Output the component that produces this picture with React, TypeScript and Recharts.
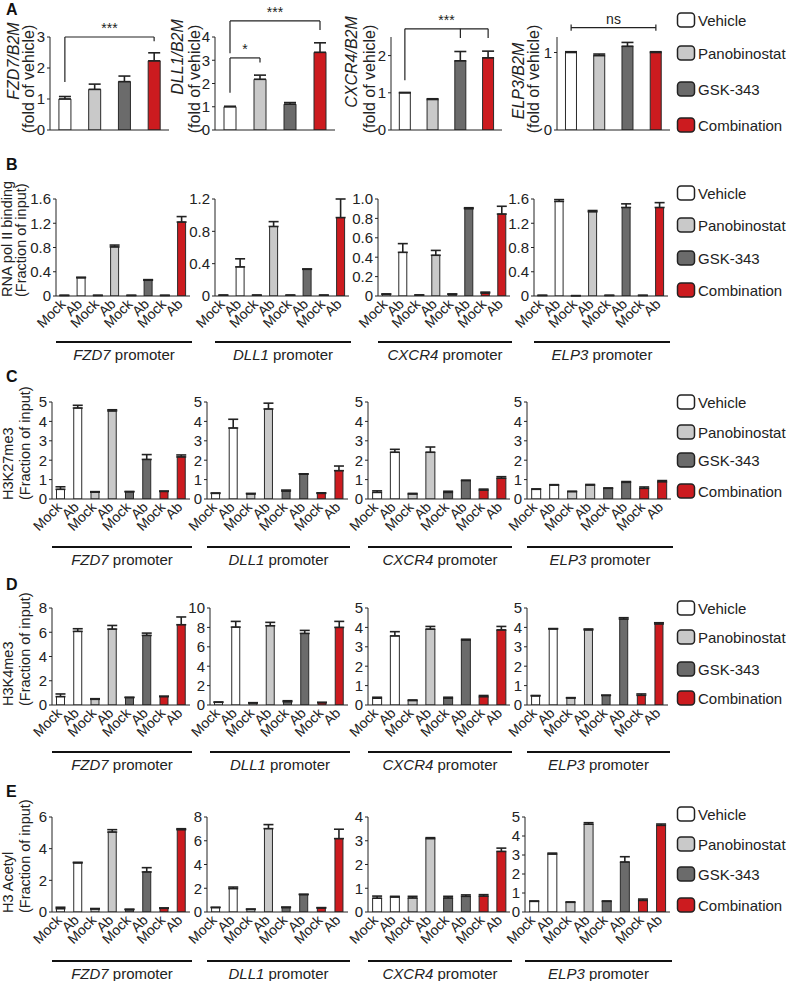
import React from 'react';
import { BarChart, Bar, XAxis, YAxis, Cell, ErrorBar, ReferenceLine } from 'recharts';

// treatment groups and ChIP tick labels
const groups = ['Vehicle', 'Panobinostat', 'GSK-343', 'Combination'];
const groupColors = ['#ffffff', '#c9c9c9', '#6b6b6b', '#cc1b1f'];
const chipTicks = ['Mock', 'Ab', 'Mock', 'Ab', 'Mock', 'Ab', 'Mock', 'Ab'];
const promoters = ['FZD7', 'DLL1', 'CXCR4', 'ELP3'];

// A: mRNA, fold of vehicle
const rnaFzd7 = [1.0, 1.31, 1.56, 2.23];
const rnaFzd7Err = [0.08, 0.17, 0.18, 0.26];
const rnaDll1 = [1.0, 2.18, 1.11, 3.34];
const rnaDll1Err = [0.02, 0.18, 0.07, 0.41];
const rnaCxcr4 = [1.0, 0.82, 1.86, 1.94];
const rnaCxcr4Err = [0.01, 0.02, 0.25, 0.18];
const rnaElp3 = [1.0, 0.96, 1.08, 1.0];
const rnaElp3Err = [0.01, 0.02, 0.05, 0.01];

// B: RNA pol II binding
const polFzd7 = [0.01, 0.3, 0.01, 0.81, 0.01, 0.26, 0.01, 1.22];
const polFzd7Err = [0, 0.01, 0, 0.03, 0, 0.01, 0, 0.09];
const polDll1 = [0.01, 0.36, 0.01, 0.86, 0.01, 0.33, 0.01, 0.97];
const polDll1Err = [0, 0.1, 0, 0.06, 0, 0.005, 0, 0.23];
const polCxcr4 = [0.02, 0.45, 0.01, 0.42, 0.02, 0.9, 0.03, 0.845];
const polCxcr4Err = [0, 0.09, 0, 0.05, 0, 0.01, 0.01, 0.08];
const polElp3 = [0.01, 1.56, 0.005, 1.39, 0.01, 1.46, 0.01, 1.46];
const polElp3Err = [0, 0.03, 0, 0.02, 0, 0.06, 0, 0.08];

// C: H3K27me3
const k27Fzd7 = [0.5, 4.69, 0.35, 4.54, 0.37, 2.04, 0.39, 2.17];
const k27Fzd7Err = [0.13, 0.14, 0.03, 0.06, 0.02, 0.25, 0.02, 0.1];
const k27Dll1 = [0.29, 3.66, 0.26, 4.64, 0.41, 1.28, 0.29, 1.46];
const k27Dll1Err = [0.02, 0.45, 0.03, 0.3, 0.05, 0.02, 0.03, 0.24];
const k27Cxcr4 = [0.34, 2.41, 0.26, 2.41, 0.34, 0.95, 0.46, 1.07];
const k27Cxcr4Err = [0.08, 0.15, 0.03, 0.27, 0.06, 0.02, 0.05, 0.08];
const k27Elp3 = [0.5, 0.72, 0.38, 0.72, 0.55, 0.86, 0.55, 0.89];
const k27Elp3Err = [0.02, 0.02, 0.02, 0.03, 0.02, 0.04, 0.07, 0.06];

// D: H3K4me3
const k4Fzd7 = [0.69, 6.07, 0.47, 6.26, 0.61, 5.74, 0.69, 6.62];
const k4Fzd7Err = [0.22, 0.22, 0.05, 0.3, 0.03, 0.19, 0.04, 0.64];
const k4Dll1 = [0.28, 8.03, 0.21, 8.17, 0.34, 7.38, 0.24, 8.0];
const k4Dll1Err = [0.03, 0.59, 0.03, 0.35, 0.1, 0.31, 0.04, 0.62];
const k4Cxcr4 = [0.35, 3.56, 0.23, 3.91, 0.35, 3.35, 0.43, 3.87];
const k4Cxcr4Err = [0.05, 0.22, 0.03, 0.14, 0.05, 0.04, 0.06, 0.18];
const k4Elp3 = [0.47, 3.92, 0.36, 3.87, 0.49, 4.43, 0.5, 4.18];
const k4Elp3Err = [0.02, 0.02, 0.02, 0.05, 0.02, 0.07, 0.07, 0.06];

// E: H3 acetyl
const acFzd7 = [0.21, 3.1, 0.19, 5.05, 0.15, 2.53, 0.23, 5.2];
const acFzd7Err = [0.09, 0.04, 0.03, 0.15, 0.03, 0.27, 0.03, 0.06];
const acDll1 = [0.37, 1.97, 0.22, 7.02, 0.37, 1.46, 0.34, 6.18];
const acDll1Err = [0.03, 0.13, 0.03, 0.34, 0.05, 0.04, 0.03, 0.79];
const acCxcr4 = [0.58, 0.63, 0.59, 3.09, 0.59, 0.66, 0.67, 2.55];
const acCxcr4Err = [0.09, 0.03, 0.07, 0.04, 0.07, 0.06, 0.06, 0.14];
const acElp3 = [0.56, 3.05, 0.51, 4.62, 0.56, 2.63, 0.61, 4.56];
const acElp3Err = [0.02, 0.05, 0.02, 0.08, 0.02, 0.28, 0.07, 0.07];

// y tick labels
const ticks0to1 = [0, 1];
const ticks0to2 = [0, 1, 2];
const ticks0to3 = [0, 1, 2, 3];
const ticks0to4 = [0, 1, 2, 3, 4];
const ticks0to5 = [0, 1, 2, 3, 4, 5];
const ticksPol16 = [0, 0.4, 0.8, 1.2, 1.6];
const ticksPol12 = [0, 0.4, 0.8, 1.2];
const ticksPol10 = [0, 0.2, 0.4, 0.6, 0.8, 1.0];
const ticksEven6 = [0, 2, 4, 6];
const ticksEven8 = [0, 2, 4, 6, 8];
const ticksEven10 = [0, 2, 4, 6, 8, 10];

// significance brackets: [fromGroup, fromY, toGroup, toY, text]
const bracketsFzd7: [string, number, string, number, string?][] = [
  ['Vehicle', 3.0, 'Combination', 3.0, '***'],
  ['Vehicle', 3.0, 'Vehicle', 1.55],
  ['Combination', 3.0, 'Combination', 2.86],
];
const bracketsDll1: [string, number, string, number, string?][] = [
  ['Vehicle', 4.69, 'Combination', 4.69, '***'],
  ['Vehicle', 4.69, 'Vehicle', 3.3],
  ['Combination', 4.69, 'Combination', 4.3],
  ['Vehicle', 3.1, 'Panobinostat', 3.1, '*'],
  ['Vehicle', 3.1, 'Vehicle', 1.6],
  ['Panobinostat', 3.1, 'Panobinostat', 2.9],
];
const bracketsCxcr4: [string, number, string, number, string?][] = [
  ['Vehicle', 2.72, 'Combination', 2.72, '***'],
  ['Vehicle', 2.72, 'Vehicle', 1.34],
  ['GSK-343', 2.72, 'GSK-343', 2.47],
  ['Combination', 2.72, 'Combination', 2.47],
];
const bracketsElp3: [string, number, string, number, string?][] = [
  ['Vehicle', 1.32, 'Combination', 1.32, 'ns'],
  ['Vehicle', 1.28, 'Vehicle', 1.36],
  ['Combination', 1.28, 'Combination', 1.36],
];

const INK = '#222';
const FONT = '"Liberation Sans", Arial, Helvetica, sans-serif';
const YW = 42;

const fmtDec = (v: number) => (v === 0 ? '0' : v.toFixed(1));

const MockTick = (props: any) => {
  const { x, y, payload } = props;
  const idx = Number(String(payload.value).slice(1));
  const ax = x + 2;
  const ay = y + 1;
  return (
    <text x={ax} y={ay} textAnchor="end" fontSize={14} fill={INK} fontFamily={FONT}
      transform={`rotate(-45, ${ax}, ${ay})`}>
      {chipTicks[idx]}
    </text>
  );
};

function FoldChart({ values, errs, ticks, max, axisX, endX, brackets }: any) {
  const data = groups.map((g, i) => ({ id: g, v: values[i], e: [0, errs[i]], fill: groupColors[i] }));
  return (
    <div style={{ position: 'absolute', left: axisX - YW, top: 0 }}>
      <BarChart width={endX - axisX + YW + 4} height={148} data={data}
        margin={{ top: 37, right: 4, left: 0, bottom: 0 }} barCategoryGap="30%">
        <XAxis dataKey="id" tick={false} tickLine={false} height={18} axisLine={{ stroke: INK }} />
        <YAxis width={YW} domain={[0, max]} ticks={ticks} allowDataOverflow interval={0}
          tickSize={3} tickMargin={2} axisLine={{ stroke: INK }} tickLine={{ stroke: INK }}
          tick={{ fontSize: 15, fill: INK, fontFamily: FONT }} />
        <Bar dataKey="v" isAnimationActive={false} stroke="#2a2a2a" strokeWidth={1}>
          {data.map((d) => <Cell key={d.id} fill={d.fill} />)}
          <ErrorBar dataKey="e" width={6} stroke={INK} strokeWidth={1.6} />
        </Bar>
        {brackets.map((b: any, k: number) => (
          <ReferenceLine key={k} segment={[{ x: b[0], y: b[1] }, { x: b[2], y: b[3] }]}
            stroke={INK} strokeWidth={1.2} ifOverflow="visible"
            label={b[4] ? { value: b[4], position: 'top', fontSize: 14, fill: INK, fontFamily: FONT, offset: 4 } : undefined} />
        ))}
      </BarChart>
    </div>
  );
}

function ChipChart({ values, errs, ticks, fmt, axisX, endX, top, bottom }: any) {
  const data = values.map((v: number, i: number) => ({
    id: 'c' + i, v, e: [0, errs[i]], fill: groupColors[Math.floor(i / 2)],
  }));
  const MT = 8;
  const MB = 50;
  return (
    <div style={{ position: 'absolute', left: axisX - YW, top: top - MT }}>
      <BarChart width={endX - axisX + YW + 4} height={bottom - top + MT + MB} data={data}
        margin={{ top: MT, right: 4, left: 0, bottom: 0 }} barCategoryGap="26%">
        <XAxis dataKey="id" interval={0} tickLine={false} height={MB} axisLine={{ stroke: INK }}
          tick={(p: any) => <MockTick {...p} />} />
        <YAxis width={YW} domain={[0, ticks[ticks.length - 1]]} ticks={ticks} allowDataOverflow interval={0}
          tickFormatter={fmt} tickSize={3} tickMargin={2} axisLine={{ stroke: INK }} tickLine={{ stroke: INK }}
          tick={{ fontSize: 15, fill: INK, fontFamily: FONT }} />
        <Bar dataKey="v" isAnimationActive={false} stroke="#2a2a2a" strokeWidth={1}>
          {data.map((d: any) => <Cell key={d.id} fill={d.fill} />)}
          <ErrorBar dataKey="e" width={5} stroke={INK} strokeWidth={1.6} />
        </Bar>
      </BarChart>
    </div>
  );
}

const rows = [
  {
    top: 199, bottom: 296, axes: [56, 215, 378, 534], ends: [190, 349, 510, 668], fmt: fmtDec,
    series: [polFzd7, polDll1, polCxcr4, polElp3], errs: [polFzd7Err, polDll1Err, polCxcr4Err, polElp3Err],
    ticks: [ticksPol16, ticksPol12, ticksPol10, ticksPol16],
    line: 342, legend: [193, 225, 258, 290], label: ['RNA pol II binding', '(Fraction of input)'], labelX: [7, 20.5],
  },
  {
    top: 402, bottom: 499, axes: [52, 207, 368, 527], ends: [190, 348, 510, 671],
    series: [k27Fzd7, k27Dll1, k27Cxcr4, k27Elp3], errs: [k27Fzd7Err, k27Dll1Err, k27Cxcr4Err, k27Elp3Err],
    ticks: [ticks0to5, ticks0to5, ticks0to5, ticks0to5],
    line: 547, legend: [402, 432, 460, 491], label: ['H3K27me3', '(Fraction of input)'], labelX: [8, 25],
  },
  {
    top: 608, bottom: 705, axes: [52, 210, 368, 527], ends: [190, 348, 510, 668],
    series: [k4Fzd7, k4Dll1, k4Cxcr4, k4Elp3], errs: [k4Fzd7Err, k4Dll1Err, k4Cxcr4Err, k4Elp3Err],
    ticks: [ticksEven8, ticksEven10, ticks0to5, ticks0to5],
    line: 752, legend: [608, 637, 669, 698], label: ['H3K4me3', '(Fraction of input)'], labelX: [8, 25],
  },
  {
    top: 817, bottom: 912, axes: [52, 207, 368, 525], ends: [190, 348, 510, 670],
    series: [acFzd7, acDll1, acCxcr4, acElp3], errs: [acFzd7Err, acDll1Err, acCxcr4Err, acElp3Err],
    ticks: [ticksEven6, ticksEven8, ticks0to4, ticks0to5],
    line: 961, legend: [814, 844, 874, 905], label: ['H3 Acetyl', '(Fraction of input)'], labelX: [8, 25],
  },
];

const legendA = [20, 53, 89, 125];
const letters = [['A', 15], ['B', 170], ['C', 382], ['D', 590], ['E', 797]];

function Legend({ ys }: { ys: number[] }) {
  return (
    <g>
      {groups.map((g, i) => (
        <g key={g}>
          <rect x={677.5} y={ys[i] - 7} width={17} height={14} rx={3.5} fill={groupColors[i]} stroke={INK} strokeWidth={1.5} />
          <text x={698} y={ys[i]} dominantBaseline="central" fontSize={15} fill={INK}>{g}</text>
        </g>
      ))}
    </g>
  );
}

const foldLabels = [
  { gene: 'FZD7/B2M', gx: 13, gy: 61, fx: 28 },
  { gene: 'DLL1/B2M', gx: 177, gy: 57, fx: 194 },
  { gene: 'CXCR4/B2M', gx: 351, gy: 62, fx: 369 },
  { gene: 'ELP3/B2M', gx: 518, gy: 81, fx: 533 },
];

export default function App() {
  return (
    <div style={{ position: 'absolute', left: 0, top: 0, width: 788, height: 981, background: '#fff', fontFamily: FONT }}>
      <FoldChart values={rnaFzd7} errs={rnaFzd7Err} ticks={ticks0to3} max={3} axisX={50} endX={169} brackets={bracketsFzd7} />
      <FoldChart values={rnaDll1} errs={rnaDll1Err} ticks={ticks0to4} max={4} axisX={215} endX={335} brackets={bracketsDll1} />
      <FoldChart values={rnaCxcr4} errs={rnaCxcr4Err} ticks={ticks0to2} max={2.5} axisX={391} endX={502} brackets={bracketsCxcr4} />
      <FoldChart values={rnaElp3} errs={rnaElp3Err} ticks={ticks0to1} max={1.2} axisX={557} endX={670} brackets={bracketsElp3} />

      {rows.map((r, ri) =>
        r.series.map((s, ci) => (
          <ChipChart key={`${ri}-${ci}`} values={s} errs={r.errs[ci]} ticks={r.ticks[ci]} fmt={r.fmt}
            axisX={r.axes[ci]} endX={r.ends[ci]} top={r.top} bottom={r.bottom} />
        ))
      )}

      <svg width={788} height={981} style={{ position: 'absolute', left: 0, top: 0, pointerEvents: 'none' }} fontFamily={FONT}>
        {letters.map(([l, y]) => (
          <text key={l as string} x={6} y={y as number} fontSize={16} fontWeight="bold" fill="#111">{l}</text>
        ))}

        {foldLabels.map((f) => (
          <g key={f.gene}>
            <text x={f.gx} y={f.gy} transform={`rotate(-90, ${f.gx}, ${f.gy})`} textAnchor="middle"
              dominantBaseline="central" fontSize={16} fontStyle="italic" fill={INK}>{f.gene}</text>
            <text x={f.fx} y={79} transform={`rotate(-90, ${f.fx}, 79)`} textAnchor="middle"
              dominantBaseline="central" fontSize={16} fill={INK}>(fold of vehicle)</text>
          </g>
        ))}
        <Legend ys={legendA} />

        {rows.map((r, ri) => (
          <g key={ri}>
            {r.label.map((t, k) => (
              <text key={k} x={r.labelX[k]} y={r.bottom + 1} transform={`rotate(-90, ${r.labelX[k]}, ${r.bottom + 1})`}
                textAnchor="start" dominantBaseline="central" fontSize={14.5} fill={INK}>{t}</text>
            ))}
            {promoters.map((p, ci) => {
              const x1 = r.axes[ci];
              const x2 = r.ends[ci] + 2;
              return (
                <g key={p}>
                  <line x1={x1} x2={x2} y1={r.line} y2={r.line} stroke="#111" strokeWidth={2} />
                  <text x={(x1 + x2) / 2} y={r.line + 12} textAnchor="middle" dominantBaseline="central" fontSize={15} fill={INK}>
                    <tspan fontStyle="italic">{p}</tspan> promoter
                  </text>
                </g>
              );
            })}
            <Legend ys={r.legend} />
          </g>
        ))}
      </svg>
    </div>
  );
}
